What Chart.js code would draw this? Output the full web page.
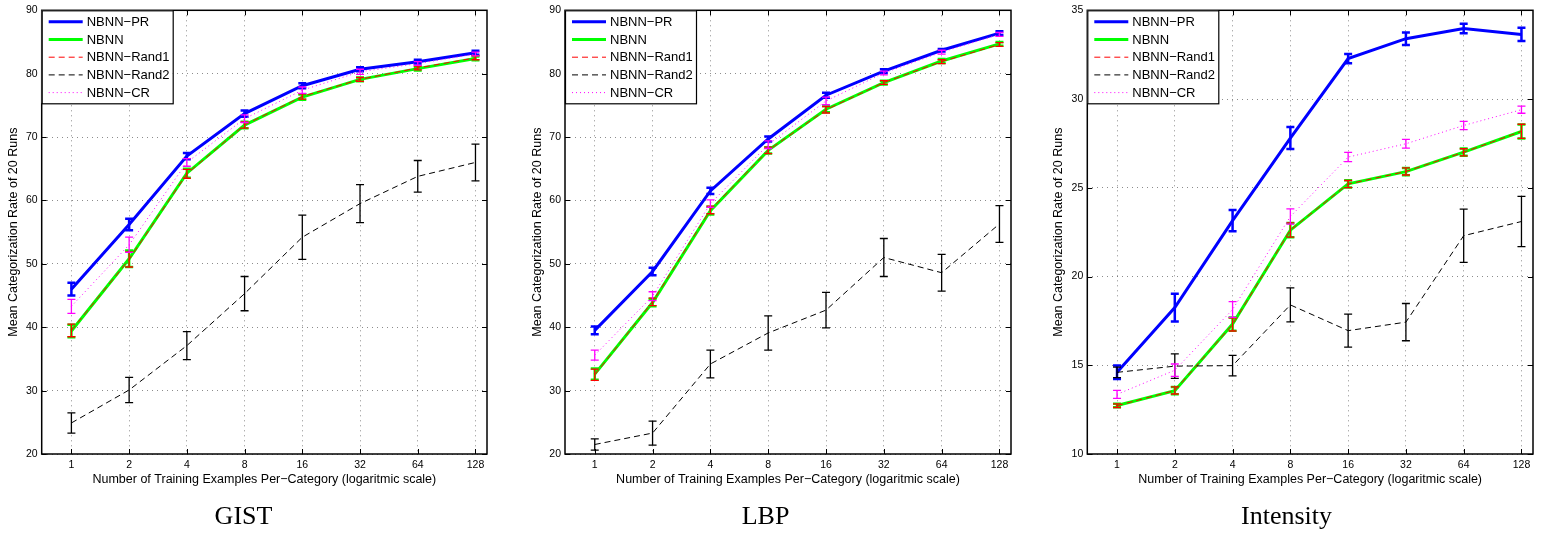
<!DOCTYPE html>
<html>
<head>
<meta charset="utf-8">
<script src="https://cdn.jsdelivr.net/npm/chart.js@4.4.1/dist/chart.umd.min.js"></script>
<style>
  body { margin: 0; background: #fff; width: 1551px; height: 533px; overflow: hidden; position: relative; }
  .panel { position: absolute; top: 0; }
  canvas { display: block; }
</style>
</head>
<body>
<div class="panel" style="left:0px"><canvas id="gist" width="520" height="533"></canvas></div>
<div class="panel" style="left:520px"><canvas id="lbp" width="520" height="533"></canvas></div>
<div class="panel" style="left:1040px"><canvas id="intensity" width="511" height="533"></canvas></div>
<script>
// training examples per category (x axis, log scale)
const xValues = [1, 2, 4, 8, 16, 32, 64, 128];
const seriesNames = ['NBNN\u2212PR', 'NBNN', 'NBNN\u2212Rand1', 'NBNN\u2212Rand2', 'NBNN\u2212CR'];

// GIST
const gistPR = [46.0, 56.2, 67.0, 73.7, 78.1, 80.7, 81.9, 83.3];
const gistPRErr = [1.0, 0.9, 0.5, 0.5, 0.4, 0.3, 0.3, 0.3];
const gistNBNN = [39.4, 50.8, 64.3, 71.9, 76.3, 79.1, 80.8, 82.4];
const gistNBNNErr = [1.0, 1.3, 0.7, 0.5, 0.4, 0.3, 0.3, 0.3];
const gistRand1 = [39.5, 50.7, 64.2, 71.9, 76.4, 79.1, 80.9, 82.5];
const gistRand1Err = [1.0, 1.2, 0.7, 0.5, 0.4, 0.3, 0.3, 0.3];
const gistRand2 = [24.9, 30.1, 37.1, 45.3, 54.2, 59.5, 63.8, 66.0];
const gistRand2Err = [1.6, 2.0, 2.2, 2.7, 3.5, 3.0, 2.5, 2.9];
const gistCR = [43.3, 53.0, 66.0, 72.9, 77.4, 80.3, 81.6, 83.1];
const gistCRErr = [1.1, 1.2, 0.6, 0.6, 0.5, 0.4, 0.3, 0.3];

// LBP
const lbpPR = [39.5, 48.8, 61.5, 69.7, 76.6, 80.4, 83.7, 86.4];
const lbpPRErr = [0.6, 0.6, 0.5, 0.4, 0.4, 0.3, 0.2, 0.3];
const lbpNBNN = [32.6, 43.9, 58.4, 67.9, 74.4, 78.6, 82.0, 84.7];
const lbpNBNNErr = [0.9, 0.6, 0.6, 0.5, 0.5, 0.3, 0.3, 0.3];
const lbpRand1 = [32.5, 44.0, 58.5, 67.9, 74.3, 78.6, 81.9, 84.6];
const lbpRand1Err = [0.9, 0.6, 0.6, 0.5, 0.5, 0.3, 0.3, 0.3];
const lbpRand2 = [21.5, 23.3, 34.2, 39.1, 42.7, 51.0, 48.6, 56.3];
const lbpRand2Err = [0.9, 1.9, 2.2, 2.7, 2.8, 3.0, 2.9, 2.9];
const lbpCR = [35.6, 44.9, 59.5, 68.8, 75.7, 80.1, 83.4, 86.2];
const lbpCRErr = [0.8, 0.7, 0.6, 0.6, 0.6, 0.3, 0.3, 0.3];

// Intensity
const intPR = [14.6, 18.25, 23.15, 27.8, 32.28, 33.4, 33.97, 33.64];
const intPRErr = [0.38, 0.78, 0.6, 0.62, 0.26, 0.35, 0.27, 0.37];
const intNBNN = [12.73, 13.57, 17.32, 22.61, 25.22, 25.91, 27.01, 28.17];
const intNBNNErr = [0.1, 0.2, 0.37, 0.4, 0.2, 0.2, 0.2, 0.4];
const intRand1 = [12.72, 13.58, 17.3, 22.62, 25.21, 25.92, 27.0, 28.18];
const intRand1Err = [0.1, 0.2, 0.37, 0.4, 0.2, 0.2, 0.2, 0.4];
const intRand2 = [14.6, 14.95, 14.98, 18.4, 16.95, 17.43, 22.3, 23.1];
const intRand2Err = [0.3, 0.69, 0.58, 0.96, 0.93, 1.05, 1.5, 1.42];
const intCR = [13.36, 14.72, 18.14, 23.38, 26.73, 27.48, 28.51, 29.4];
const intCRErr = [0.23, 0.35, 0.44, 0.43, 0.26, 0.25, 0.23, 0.2];

// line styles per series (same order as seriesNames)
const seriesStyles = [
  { color: '#0000ff', width: 3, dash: [], order: 5 },
  { color: '#00ff00', width: 3, dash: [], order: 4 },
  { color: '#ff0000', width: 1, dash: [6, 4], order: 3 },
  { color: '#000000', width: 1, dash: [6, 4], order: 2 },
  { color: '#ff00ff', width: 1, dash: [1, 3], order: 1 }
];

Chart.defaults.font.family = 'Liberation Sans, Arial, Helvetica, sans-serif';
Chart.defaults.color = '#000';

const errorBarPlugin = {
  id: 'errorBars',
  afterDatasetDraw(chart, args) {
    const ds = chart.data.datasets[args.index];
    if (!ds.errors) return;
    const ctx = chart.ctx;
    const yScale = chart.scales.y;
    ctx.save();
    ctx.strokeStyle = ds.borderColor;
    ctx.lineWidth = ds.borderWidth >= 2 ? 2.5 : 1.3;
    ctx.setLineDash([]);
    args.meta.data.forEach((pt, i) => {
      const v = ds.data[i].y;
      const e = ds.errors[i];
      const y1 = yScale.getPixelForValue(v - e);
      const y2 = yScale.getPixelForValue(v + e);
      ctx.beginPath();
      ctx.moveTo(pt.x, y1); ctx.lineTo(pt.x, y2);
      ctx.moveTo(pt.x - 4, y1); ctx.lineTo(pt.x + 4, y1);
      ctx.moveTo(pt.x - 4, y2); ctx.lineTo(pt.x + 4, y2);
      ctx.stroke();
    });
    ctx.restore();
  }
};

const framePlugin = {
  id: 'frame',
  afterDraw(chart) {
    const ctx = chart.ctx;
    const a = chart.chartArea;
    const xs = chart.scales.x, ys = chart.scales.y;
    ctx.save();
    ctx.setLineDash([]);
    ctx.strokeStyle = '#000';
    ctx.lineWidth = 1;
    // inward tick marks
    ctx.beginPath();
    xs.ticks.forEach(t => {
      const x = Math.round(xs.getPixelForValue(t.value)) + 0.5;
      ctx.moveTo(x, a.bottom); ctx.lineTo(x, a.bottom - 5);
      ctx.moveTo(x, a.top); ctx.lineTo(x, a.top + 5);
    });
    ys.ticks.forEach(t => {
      const y = Math.round(ys.getPixelForValue(t.value)) + 0.5;
      ctx.moveTo(a.left, y); ctx.lineTo(a.left + 5, y);
      ctx.moveTo(a.right, y); ctx.lineTo(a.right - 5, y);
    });
    ctx.stroke();
    // axes box
    ctx.lineWidth = 1.5;
    ctx.strokeRect(a.left, a.top, a.right - a.left, a.bottom - a.top);
    // legend
    const lx = a.left, ly = a.top, lw = 131, lh = 93;
    ctx.fillStyle = '#fff';
    ctx.fillRect(lx, ly, lw, lh);
    ctx.lineWidth = 1.2;
    ctx.strokeRect(lx + 0.5, ly + 0.5, lw, lh);
    ctx.font = '13px Liberation Sans, Arial, sans-serif';
    ctx.textBaseline = 'middle';
    ctx.textAlign = 'left';
    chart.data.datasets.forEach((ds, i) => {
      const yy = ly + 11.5 + i * 17.7;
      ctx.strokeStyle = ds.borderColor;
      ctx.lineWidth = ds.borderWidth;
      ctx.setLineDash(ds.borderDash || []);
      ctx.beginPath();
      ctx.moveTo(lx + 7, yy); ctx.lineTo(lx + 41, yy);
      ctx.stroke();
      ctx.setLineDash([]);
      ctx.fillStyle = '#000';
      ctx.fillText(ds.label, lx + 45, yy + 0.5);
    });
    ctx.restore();
  }
};

function makePanel(id, title, values, errors, yMin, yMax, yStep, yAxisWidth, rightPad, yTitlePad) {
  const datasets = seriesNames.map((name, s) => ({
    label: name,
    data: xValues.map((x, i) => ({ x: x, y: values[s][i] })),
    errors: errors[s],
    borderColor: seriesStyles[s].color,
    backgroundColor: seriesStyles[s].color,
    borderWidth: seriesStyles[s].width,
    borderDash: seriesStyles[s].dash,
    order: seriesStyles[s].order,
    pointRadius: 0,
    tension: 0,
    fill: false
  }));

  return new Chart(document.getElementById(id).getContext('2d'), {
    type: 'line',
    data: { datasets: datasets },
    options: {
      responsive: false,
      animation: false,
      layout: { padding: { top: 7, right: rightPad, left: 0, bottom: 0 } },
      scales: {
        x: {
          type: 'logarithmic',
          min: 0.71,
          max: 147,
          afterBuildTicks: s => { s.ticks = xValues.map(v => ({ value: v })); },
          afterFit: s => { s.height = 36.5; },
          ticks: { padding: 5, font: { size: 10.5 }, maxRotation: 0, autoSkip: false, callback: v => String(v) },
          grid: { color: 'rgba(0,0,0,0.45)', drawTicks: false, lineWidth: 1 },
          border: { display: false, dash: [1, 4] },
          title: {
            display: true,
            text: 'Number of Training Examples Per\u2212Category (logaritmic scale)',
            font: { size: 12.5 },
            padding: { top: 0, bottom: 3 }
          }
        },
        y: {
          min: yMin,
          max: yMax,
          afterFit: s => { s.width = yAxisWidth; },
          ticks: { stepSize: yStep, padding: 4, font: { size: 10.5 } },
          grid: { color: 'rgba(0,0,0,0.45)', drawTicks: false, lineWidth: 1 },
          border: { display: false, dash: [1, 4] },
          title: {
            display: true,
            text: 'Mean Categorization Rate of 20 Runs',
            font: { size: 12.5 },
            padding: { top: yTitlePad, bottom: 0 }
          }
        }
      },
      plugins: {
        legend: { display: false },
        tooltip: { enabled: false },
        title: {
          display: true,
          text: title,
          position: 'bottom',
          color: '#000',
          font: { family: 'Liberation Serif, Times New Roman, serif', size: 26, weight: 'normal' },
          padding: { top: 10.8, bottom: 0.5 }
        }
      }
    },
    plugins: [errorBarPlugin, framePlugin]
  });
}

makePanel('gist', 'GIST',
  [gistPR, gistNBNN, gistRand1, gistRand2, gistCR],
  [gistPRErr, gistNBNNErr, gistRand1Err, gistRand2Err, gistCRErr],
  20, 90, 10, 41.7, 33, 6);

makePanel('lbp', 'LBP',
  [lbpPR, lbpNBNN, lbpRand1, lbpRand2, lbpCR],
  [lbpPRErr, lbpNBNNErr, lbpRand1Err, lbpRand2Err, lbpCRErr],
  20, 90, 10, 45, 29, 10);

makePanel('intensity', 'Intensity',
  [intPR, intNBNN, intRand1, intRand2, intCR],
  [intPRErr, intNBNNErr, intRand1Err, intRand2Err, intCRErr],
  10, 35, 5, 47.3, 18, 11.3);
</script>
</body>
</html>
